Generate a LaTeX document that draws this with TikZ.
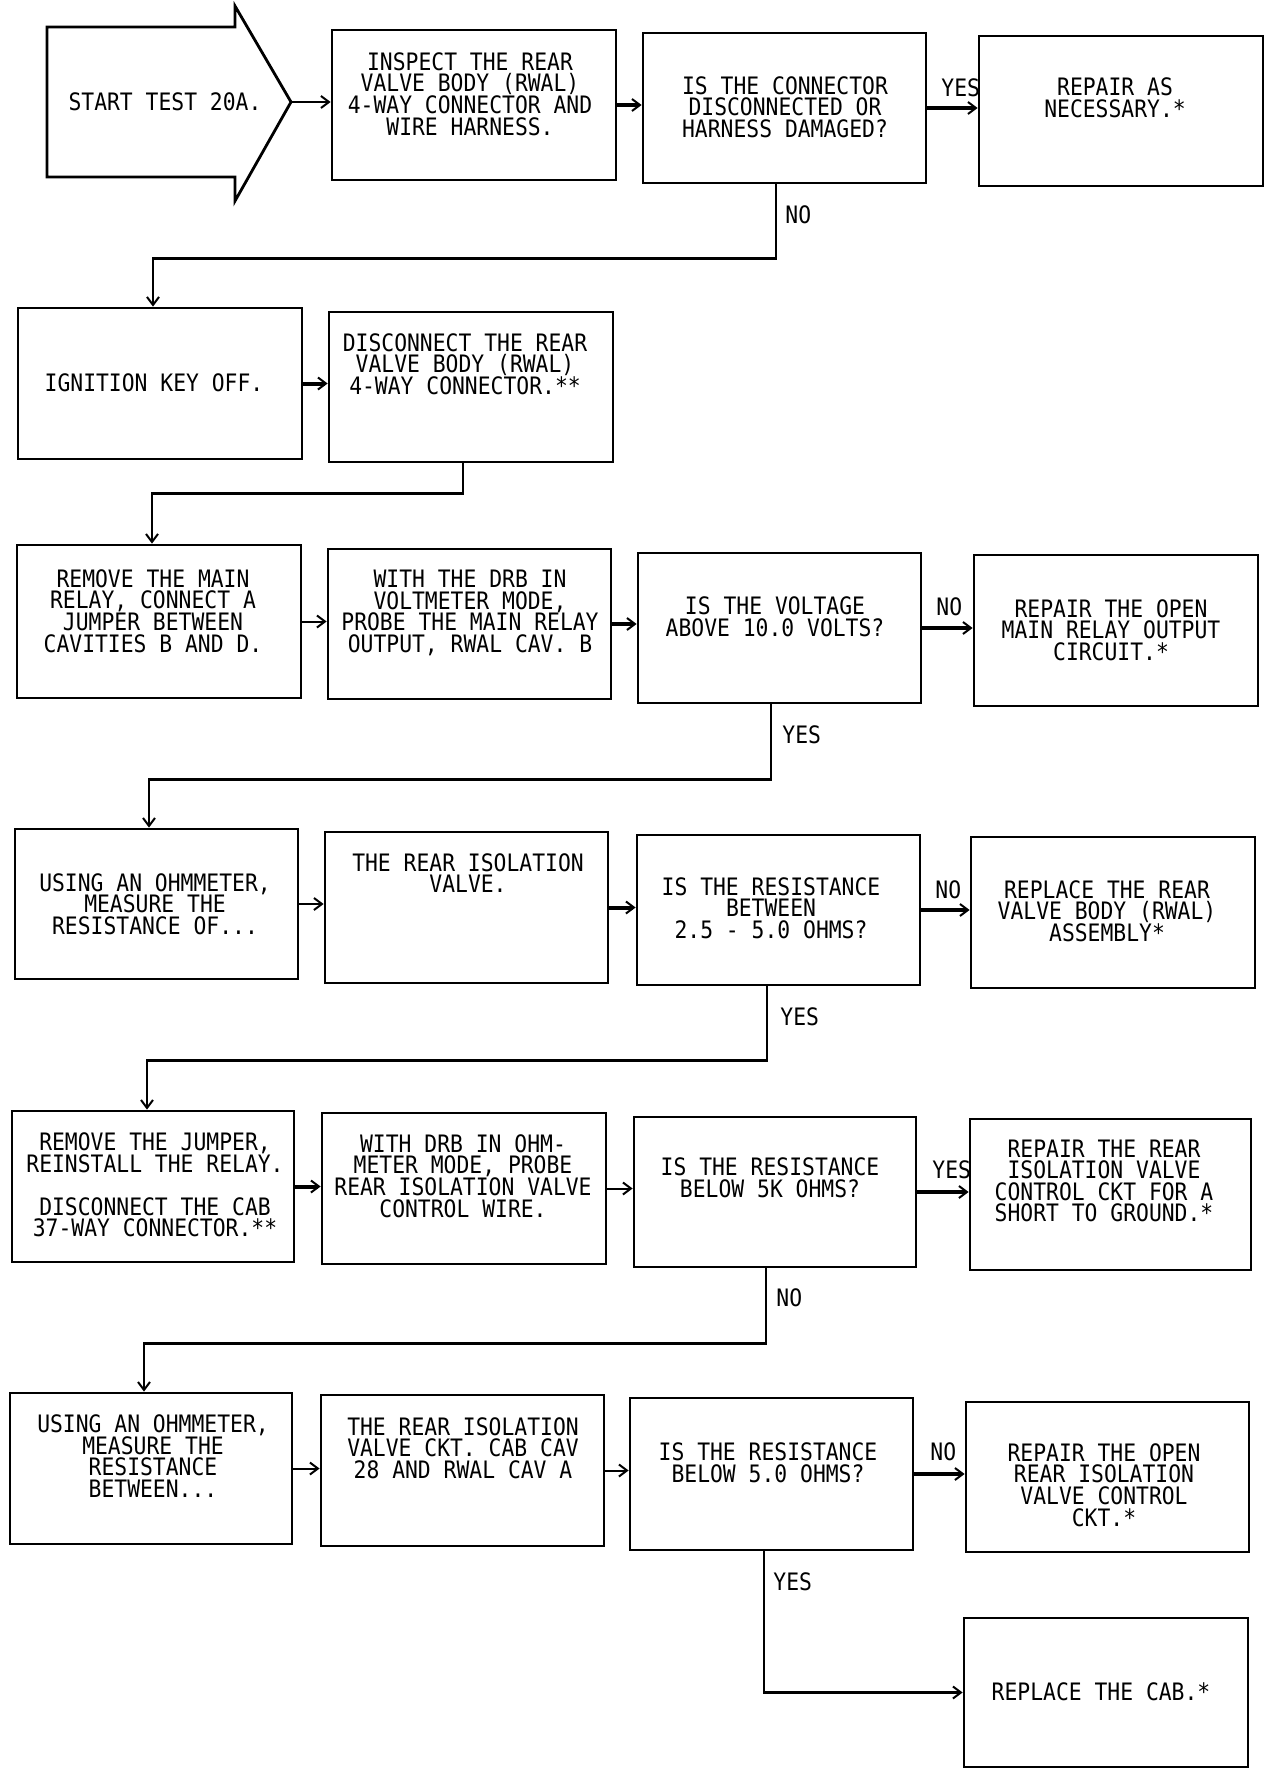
\documentclass[tikz,border=0pt]{standalone}
\usepackage{fontspec}
\newfontfamily\plotfont{DejaVu Sans Mono}[FakeStretch=0.89]
\usetikzlibrary{arrows.meta,fit,calc}
\begin{document}
\begin{tikzpicture}[x=0.5pt,y=-0.5pt,
  box/.style={draw, line width=1.4pt, inner sep=0pt},
  txt/.style={font=\plotfont\fontsize{12}{10.8}\selectfont, align=center, inner sep=0pt},
  lbl/.style={font=\plotfont\fontsize{12}{10.8}\selectfont, anchor=west, inner sep=0pt},
  tipA/.style={-{Straight Barb[length=4pt,width=6pt,line width=1pt]}},
  cthick/.style={tipA, line width=2pt},
  cthin/.style={tipA, line width=1pt},
  elbow/.style={tipA, line width=1.3pt}]
\useasboundingbox (0,0) rectangle (1280,1776);
\fill[white] (0,0) rectangle (1280,1776);

% start arrow
\draw[line width=1.4pt, line join=miter] (47,27) -- (235,27) -- (235,6) -- (291,102) -- (235,201) -- (235,177) -- (47,177) -- cycle;
\coordinate (starttip) at (291,102);
\node[txt] (t0) at (165,102) {START TEST 20A.};

% row 1
\node[box, fit={(332,30) (616,180)}] (b1) {};
\node[box, fit={(643,33) (926,183)}] (b2) {};
\node[box, fit={(979,36) (1263,186)}] (b3) {};
\node[txt] (t1) at (470,94) {INSPECT THE REAR\\VALVE BODY (RWAL)\\4-WAY CONNECTOR AND\\WIRE HARNESS.};
\node[txt] (t2) at (785,107) {IS THE CONNECTOR\\DISCONNECTED OR\\HARNESS DAMAGED?};
\node[txt] (t3) at (1115,98) {REPAIR AS\\NECESSARY.*};

% row 2
\node[box, fit={(18,308) (302,459)}] (b4) {};
\node[box, fit={(329,312) (613,462)}] (b5) {};
\node[txt] (t4) at (154,383) {IGNITION KEY OFF.};
\node[txt] (t5) at (465,364) {DISCONNECT THE REAR\\VALVE BODY (RWAL)\\4-WAY CONNECTOR.**};

% row 3
\node[box, fit={(17,545) (301,698)}] (b6) {};
\node[box, fit={(328,549) (611,699)}] (b7) {};
\node[box, fit={(638,553) (921,703)}] (b8) {};
\node[box, fit={(974,555) (1258,706)}] (b9) {};
\node[txt] (t6) at (153,611) {REMOVE THE MAIN\\RELAY, CONNECT A\\JUMPER BETWEEN\\CAVITIES B AND D.};
\node[txt] (t7) at (470,613) {WITH THE DRB IN\\VOLTMETER MODE,\\PROBE THE MAIN RELAY\\OUTPUT, RWAL CAV. B};
\node[txt] (t8) at (775,617) {IS THE VOLTAGE\\ABOVE 10.0 VOLTS?};
\node[txt] (t9) at (1111,630) {REPAIR THE OPEN\\MAIN RELAY OUTPUT\\CIRCUIT.*};

% row 4
\node[box, fit={(15,829) (298,979)}] (b10) {};
\node[box, fit={(325,832) (608,983)}] (b11) {};
\node[box, fit={(637,835) (920,985)}] (b12) {};
\node[box, fit={(971,837) (1255,988)}] (b13) {};
\node[txt] (t10) at (155,904) {USING AN OHMMETER,\\MEASURE THE\\RESISTANCE OF...};
\node[txt] (t11) at (468,873) {THE REAR ISOLATION\\VALVE.};
\node[txt] (t12) at (771,908) {IS THE RESISTANCE\\BETWEEN\\2.5 - 5.0 OHMS?};
\node[txt] (t13) at (1107,911) {REPLACE THE REAR\\VALVE BODY (RWAL)\\ASSEMBLY*};

% row 5
\node[box, fit={(12,1111) (294,1262)}] (b14) {};
\node[box, fit={(322,1113) (606,1264)}] (b15) {};
\node[box, fit={(634,1117) (916,1267)}] (b16) {};
\node[box, fit={(970,1119) (1251,1270)}] (b17) {};
\node[txt] (t14) at (155,1185) {REMOVE THE JUMPER,\\REINSTALL THE RELAY.\\[10.8pt]DISCONNECT THE CAB\\37-WAY CONNECTOR.**};
\node[txt] (t15) at (463,1176) {WITH DRB IN OHM-\\METER MODE, PROBE\\REAR ISOLATION VALVE\\CONTROL WIRE.};
\node[txt] (t16) at (770,1178) {IS THE RESISTANCE\\BELOW 5K OHMS?};
\node[txt] (t17) at (1104,1181) {REPAIR THE REAR\\ISOLATION VALVE\\CONTROL CKT FOR A\\SHORT TO GROUND.*};

% row 6
\node[box, fit={(10,1393) (292,1544)}] (b18) {};
\node[box, fit={(321,1395) (604,1546)}] (b19) {};
\node[box, fit={(630,1398) (913,1550)}] (b20) {};
\node[box, fit={(966,1402) (1249,1552)}] (b21) {};
\node[box, fit={(964,1618) (1248,1767)}] (b22) {};
\node[txt] (t18) at (153,1456) {USING AN OHMMETER,\\MEASURE THE\\RESISTANCE\\BETWEEN...};
\node[txt] (t19) at (463,1448) {THE REAR ISOLATION\\VALVE CKT. CAB CAV\\28 AND RWAL CAV A};
\node[txt] (t20) at (768,1463) {IS THE RESISTANCE\\BELOW 5.0 OHMS?};
\node[txt] (t21) at (1104,1485) {REPAIR THE OPEN\\REAR ISOLATION\\VALVE CONTROL\\CKT.*};
\node[txt] (t22) at (1101,1692) {REPLACE THE CAB.*};

% labels
\node[lbl] (y1) at (941,88) {YES};
\node[lbl] (n1) at (785,215) {NO};
\node[lbl] (n2) at (936,607) {NO};
\node[lbl] (y2) at (782,735) {YES};
\node[lbl] (n3) at (935,890) {NO};
\node[lbl] (y3) at (780,1017) {YES};
\node[lbl] (y4) at (932,1170) {YES};
\node[lbl] (n4) at (776,1298) {NO};
\node[lbl] (n5) at (930,1452) {NO};
\node[lbl] (y5) at (773,1582) {YES};

% horizontal connectors
\draw[cthin] (starttip) -- (starttip -| b1.west);
\draw[cthick] (b1.east) -- (b1.east -| b2.west);
\draw[cthick] (b2.east) -- (b2.east -| b3.west);
\draw[cthick] (b4.east) -- (b4.east -| b5.west);
\draw[cthin] (b6.east) -- (b6.east -| b7.west);
\draw[cthick] (b7.east) -- (b7.east -| b8.west);
\draw[cthick] (b8.east) -- (b8.east -| b9.west);
\draw[cthin] (b10.east) -- (b10.east -| b11.west);
\draw[cthick] (b11.east) -- (b11.east -| b12.west);
\draw[cthick] (b12.east) -- (b12.east -| b13.west);
\draw[cthick] (b14.east) -- (b14.east -| b15.west);
\draw[cthin] (b15.east) -- (b15.east -| b16.west);
\draw[cthick] (b16.east) -- (b16.east -| b17.west);
\draw[cthin] (b18.east) -- (b18.east -| b19.west);
\draw[cthin] (b19.east) -- (b19.east -| b20.west);
\draw[cthick] (b20.east) -- (b20.east -| b21.west);

% elbow connectors
\draw[elbow] ($(b2.south)+(-8.5,0)$) -- ++(0,74) -| ($(b4.north)+(-7,0)$);
\draw[elbow] ($(b5.south)+(-8,0)$) -- ++(0,30) -| ($(b6.north)+(-7,0)$);
\draw[elbow] ($(b8.south)+(-8.5,0)$) -- ++(0,75) -| ($(b10.north)+(-7.5,0)$);
\draw[elbow] ($(b12.south)+(-11.5,0)$) -- ++(0,74) -| ($(b14.north)+(-6,0)$);
\draw[elbow] ($(b16.south)+(-9,0)$) -- ++(0,75) -| ($(b18.north)+(-7,0)$);
\draw[elbow] ($(b20.south)+(-7.5,0)$) |- (b22.west);
\end{tikzpicture}
\end{document}
